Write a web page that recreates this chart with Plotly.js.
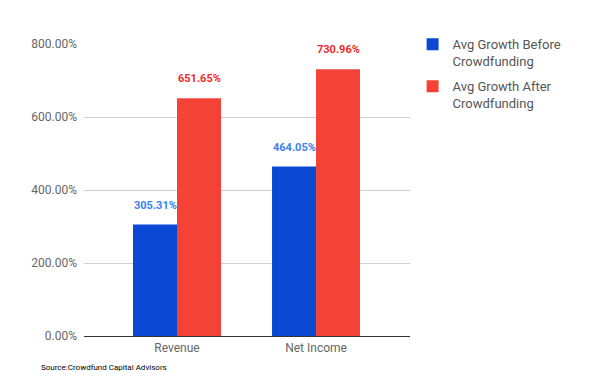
<!DOCTYPE html>
<html>
<head>
<meta charset="utf-8">
<script src="https://cdn.plot.ly/plotly-3.0.1.min.js"></script>
<style>html,body{margin:0;padding:0;background:#fff;}#chart{width:600px;height:392px;}</style>
</head>
<body>
<div id="chart"></div>
<script>
var categories = ["Revenue", "Net Income"];
var seriesNames = ["Avg Growth Before<br>Crowdfunding", "Avg Growth After<br>Crowdfunding"];
var before = [305.31, 464.05];
var after = [651.65, 730.96];
var yTicks = [0, 200, 400, 600, 800];
var yTickText = ["0.00%", "200.00%", "400.00%", "600.00%", "800.00%"];

var barColors = ["#0a48d3", "#f44336"];
var labelColors = ["#3c80f0", "#f1291f"];
var fnt = "Roboto, Arial, sans-serif";

function fmt(v){ return v.toFixed(2) + "%"; }

var traces = [
  {type: "bar", name: seriesNames[0], legendgroup: "g1", x: categories, y: before, marker: {color: barColors[0]}, hoverinfo: "none"},
  {type: "bar", name: seriesNames[1], legendgroup: "g2", x: categories, y: after, marker: {color: barColors[1]}, hoverinfo: "none"}
];

var bargap = 0.367;
var half = (1 - bargap) / 4;
var annotations = [];
[before, after].forEach(function(series, si){
  series.forEach(function(v, ci){
    annotations.push({
      xref: "x", yref: "y", x: ci + (si === 0 ? -half : half), y: v,
      text: "<b>" + fmt(v) + "</b>", showarrow: false,
      yanchor: "bottom", yshift: 11,
      font: {family: fnt, size: 11, color: labelColors[si]}
    });
  });
});
annotations.push({
  xref: "paper", yref: "paper", x: -0.138, y: -0.085, xanchor: "left", yanchor: "top",
  text: "Source:Crowdfund Capital Advisors", showarrow: false,
  font: {family: fnt, size: 8, color: "#000"}
});

var layout = {
  width: 600, height: 392,
  margin: {l: 84, r: 190, t: 44, b: 56, pad: 0},
  paper_bgcolor: "#fff", plot_bgcolor: "#fff",
  barmode: "group", bargap: bargap, bargroupgap: 0,
  font: {family: fnt, color: "#666"},
  xaxis: {
    type: "category", range: [-0.669, 1.676],
    tickfont: {family: fnt, size: 12, color: "#666"},
    showgrid: false, showline: true, linecolor: "#333", linewidth: 1.3,
    ticks: "", ticklen: 0
  },
  yaxis: {
    range: [0, 800], tickvals: yTicks, ticktext: yTickText,
    tickfont: {family: fnt, size: 12, color: "#666"},
    gridcolor: "#d0d0d0", gridwidth: 1, zeroline: false,
    ticks: "", ticklabelstandoff: 6
  },
  showlegend: true,
  legend: {
    x: 1.008, y: 1.05, xanchor: "left", yanchor: "top",
    font: {family: fnt, size: 13, color: "#555"},
    itemwidth: 30, tracegroupgap: 5, valign: "top",
    traceorder: "grouped"
  },
  annotations: annotations
};

Plotly.newPlot("chart", traces, layout, {displayModeBar: false, staticPlot: true});
</script>
</body>
</html>
